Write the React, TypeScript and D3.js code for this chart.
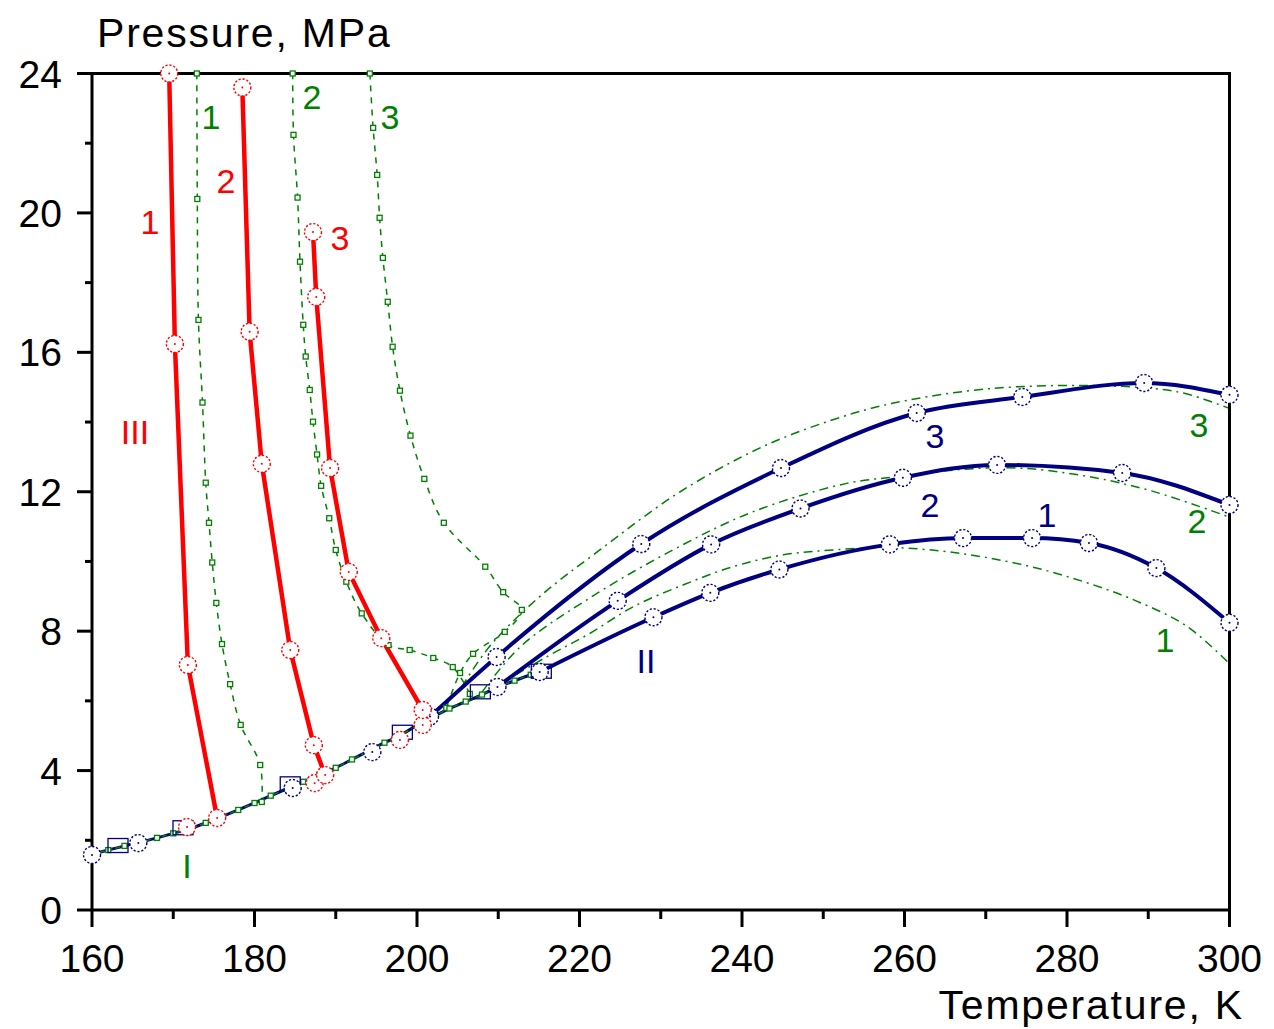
import React from "react";
import * as d3 from "d3";

// ---------- data (T in K, P in MPa) ----------
const xTicksMajor = [160, 180, 200, 220, 240, 260, 280, 300];
const xTicksMinor = [170, 190, 210, 230, 250, 270, 290];
const yTicksMajor = [0, 4, 8, 12, 16, 20, 24];
const yTicksMinor = [2, 6, 10, 14, 18, 22];

// saturation line (I)
const satT = [160, 162, 164, 166, 168, 170, 172, 174, 176, 178, 180, 182, 184, 186, 188, 190, 192, 194, 196, 198, 200, 202, 204, 206, 208, 210, 212, 214, 215.1];
const satP = [1.6, 1.72, 1.84, 1.95, 2.07, 2.2, 2.33, 2.5, 2.68, 2.87, 3.07, 3.28, 3.48, 3.68, 3.88, 4.08, 4.32, 4.56, 4.8, 5.02, 5.3, 5.55, 5.78, 5.98, 6.18, 6.4, 6.58, 6.75, 6.83];

// experimental liquid isochores (red)
const red1T = [169.5, 170.2, 171.8, 175.4];
const red1P = [24.0, 16.24, 7.03, 2.64];
const red2T = [178.5, 179.4, 180.9, 184.4, 187.3, 188.7];
const red2P = [23.6, 16.59, 12.8, 7.46, 4.73, 3.87];
const red3T = [187.2, 187.6, 189.3, 191.6, 195.6, 200.7];
const red3P = [19.45, 17.59, 12.68, 9.7, 7.8, 5.74];
const redSatT = [171.7, 187.4, 197.9, 200.7];
const redSatP = [2.38, 3.64, 4.88, 5.31];

// experimental gas isochores (navy)
const blue1T = [215.1, 229.1, 236.1, 244.6, 258.2, 267.2, 275.7, 282.7, 291.0, 300.0];
const blue1P = [6.83, 8.4, 9.1, 9.77, 10.49, 10.67, 10.67, 10.53, 9.81, 8.24];
const blue2T = [209.9, 224.7, 236.2, 247.2, 259.8, 271.4, 286.8, 300.0];
const blue2P = [6.4, 8.87, 10.49, 11.52, 12.4, 12.77, 12.54, 11.62];
const blue3T = [201.6, 209.8, 227.6, 244.8, 261.5, 274.5, 289.5, 300.0];
const blue3P = [5.55, 7.26, 10.5, 12.68, 14.26, 14.72, 15.12, 14.78];
const blueSatCircT = [160, 165.7, 184.7, 194.5];
const blueSatCircP = [1.58, 1.92, 3.5, 4.53];
const blueSatSqT = [163.2, 171.2, 184.4, 198.2, 207.8, 215.3];
const blueSatSqP = [1.85, 2.36, 3.62, 5.1, 6.26, 6.85];

// calculated isochores (green), liquid side
const g1T = [172.9, 172.96, 173.1, 173.6, 174.0, 174.4, 174.8, 175.3, 176.0, 177.0, 178.3, 180.7, 180.9];
const g1P = [24.0, 20.4, 16.93, 14.56, 12.26, 11.11, 9.97, 8.81, 7.63, 6.48, 5.31, 4.16, 3.1];
const g2T = [184.7, 184.8, 185.3, 185.6, 186.0, 186.3, 186.8, 187.2, 187.7, 188.2, 189.2, 190.0, 191.3, 193.2, 196.5, 199.1, 202.0, 204.4, 206.5];
const g2P = [24.0, 22.24, 20.44, 18.6, 16.79, 15.88, 14.92, 14.01, 13.07, 12.17, 11.24, 10.33, 9.42, 8.51, 7.6, 7.46, 7.23, 6.97, 6.2];
const g3T = [194.2, 194.6, 195.1, 195.4, 195.8, 196.4, 197.0, 197.9, 199.2, 200.9, 203.3, 208.4, 210.6, 212.9, 210.8, 206.9, 205.3, 203.6];
const g3P = [24.0, 22.44, 21.09, 19.86, 18.71, 17.45, 16.16, 14.9, 13.61, 12.37, 11.11, 9.85, 9.12, 8.61, 7.98, 7.35, 6.8, 5.8];
// calculated isochores (green), gas side
const g1rT = [210, 216.0, 221.3, 226.6, 232.8, 238.9, 245.1, 251.2, 258.2, 264.5, 269.9, 276.1, 282.3, 288.5, 294.7, 299.9];
const g1rP = [6.45, 7.27, 7.94, 8.7, 9.33, 9.85, 10.19, 10.33, 10.4, 10.3, 10.12, 9.82, 9.4, 8.87, 8.15, 7.09];
const g2rT = [208, 212.7, 220.9, 231.5, 241.4, 252.9, 259.9, 267.0, 274.0, 282.3, 290.6, 299.9];
const g2rP = [6.25, 7.55, 8.9, 10.33, 11.43, 12.24, 12.45, 12.64, 12.68, 12.45, 12.01, 11.28];
const g3rT = [205.5, 209.0, 215.1, 222.5, 232.4, 243.0, 253.7, 260.3, 270.6, 282.3, 290.6, 294.7, 299.9];
const g3rP = [6.4, 7.58, 8.99, 10.33, 12.0, 13.34, 14.25, 14.62, 14.96, 15.05, 14.96, 14.81, 14.4];

const zip = (a: number[], b: number[]) => a.map((v, i) => [v, b[i]] as [number, number]);

const W = 1274, H = 1029;
const x = d3.scaleLinear().domain([160, 300]).range([92, 1229.5]);
const y = d3.scaleLinear().domain([0, 24]).range([910, 73.5]);

const RED = "#ff0000", NAVY = "#000080", GREEN = "#008000";
const FONT = "'Liberation Sans', Arial, sans-serif";

const lin = d3.line<[number, number]>().x(d => x(d[0])).y(d => y(d[1]));
const smooth = d3.line<[number, number]>().x(d => x(d[0])).y(d => y(d[1])).curve(d3.curveCatmullRom.alpha(0.5));
const mono = d3.line<[number, number]>().x(d => x(d[0])).y(d => y(d[1])).curve(d3.curveMonotoneX);

function Circ({ t, p, color }: { t: number; p: number; color: string }) {
  return (
    <g>
      <circle cx={x(t)} cy={y(p)} r={8.5} fill="white" stroke={color} strokeWidth={1.4} strokeDasharray="2.2,1.8" />
      <circle cx={x(t)} cy={y(p)} r={1} fill={color} />
    </g>
  );
}
function Sq({ t, p, s = 5 }: { t: number; p: number; s?: number }) {
  return <rect x={x(t) - s / 2} y={y(p) - s / 2} width={s} height={s} fill="white" stroke={GREEN} strokeWidth={1.3} />;
}
function Label({ t, p, text, color }: { t: number; p: number; text: string; color: string }) {
  return (
    <text x={x(t)} y={y(p) + 12} textAnchor="middle" fontSize={34} fill={color} fontFamily={FONT}>
      {text}
    </text>
  );
}

export default function App() {
  const sat = zip(satT, satP);
  const greens = [zip(g1T, g1P), zip(g2T, g2P), zip(g3T, g3P)];
  const greensR = [zip(g1rT, g1rP), zip(g2rT, g2rP), zip(g3rT, g3rP)];
  const reds = [zip(red1T, red1P), zip(red2T, red2P), zip(red3T, red3P)];
  const blues = [zip(blue1T, blue1P), zip(blue2T, blue2P), zip(blue3T, blue3P)];
  return (
    <svg width={W} height={H} style={{ position: "absolute", left: 0, top: 0, background: "white" }} fontFamily={FONT}>
      <defs>
        <clipPath id="plot">
          <rect x={92} y={70} width={1229.5 - 92} height={910 - 70} />
        </clipPath>
      </defs>
      <g clipPath="url(#plot)">
        {/* green calculated curves */}
        {greens.map((g, i) => (
          <path key={"g" + i} d={smooth(g) || ""} fill="none" stroke={GREEN} strokeWidth={1.5} strokeDasharray="6,6" />
        ))}
        {greensR.map((g, i) => (
          <path key={"gr" + i} d={smooth(g) || ""} fill="none" stroke={GREEN} strokeWidth={1.5} strokeDasharray="9,5,2,5" />
        ))}
        {/* saturation line */}
        <path d={smooth(sat) || ""} fill="none" stroke={NAVY} strokeWidth={3} />
        <path d={smooth(sat) || ""} fill="none" stroke={GREEN} strokeWidth={1.5} strokeDasharray="5,3" />
        {/* blue lines */}
        {blues.map((b, i) => (
          <path key={"b" + i} d={mono(b) || ""} fill="none" stroke={NAVY} strokeWidth={4} />
        ))}
        {/* red lines */}
        {reds.map((r, i) => (
          <path key={"r" + i} d={lin(r) || ""} fill="none" stroke={RED} strokeWidth={4.5} />
        ))}
      </g>

      {/* frame */}
      <rect x={92} y={73.5} width={1229.5 - 92} height={910 - 73.5} fill="none" stroke="black" strokeWidth={3} />

      {/* markers (not clipped, drawn over the frame like the reference) */}
      {greens.map((g, i) => g.map((d, j) => <Sq key={`gs${i}-${j}`} t={d[0]} p={d[1]} />))}
      {sat.map((d, j) => <Sq key={"ss" + j} t={d[0]} p={d[1]} s={5} />)}
      {blueSatSqT.map((t, j) => (
        <rect key={"bs" + j} x={x(t) - 10} y={y(blueSatSqP[j]) - 7} width={20} height={14} fill="none" stroke={NAVY} strokeWidth={1.3} />
      ))}
      {blueSatCircT.map((t, j) => <Circ key={"bc" + j} t={t} p={blueSatCircP[j]} color={NAVY} />)}
      {blues.map((b, i) => b.map((d, j) => <Circ key={`bc${i}-${j}`} t={d[0]} p={d[1]} color={NAVY} />))}
      {redSatT.map((t, j) => <Circ key={"rc" + j} t={t} p={redSatP[j]} color={RED} />)}
      {reds.map((r, i) => r.map((d, j) => <Circ key={`rc${i}-${j}`} t={d[0]} p={d[1]} color={RED} />))}

      {/* x ticks */}
      {xTicksMajor.map(t => (
        <g key={"xt" + t}>
          <line x1={x(t)} x2={x(t)} y1={910} y2={927} stroke="black" strokeWidth={3} />
          <text x={x(t)} y={972} textAnchor="middle" fontSize={39}>{t}</text>
        </g>
      ))}
      {xTicksMinor.map(t => (
        <line key={"xm" + t} x1={x(t)} x2={x(t)} y1={910} y2={919} stroke="black" strokeWidth={3} />
      ))}
      {/* y ticks */}
      {yTicksMajor.map(p => (
        <g key={"yt" + p}>
          <line x1={77} x2={92} y1={y(p)} y2={y(p)} stroke="black" strokeWidth={3} />
          <text x={62} y={y(p) + 14} textAnchor="end" fontSize={39}>{p}</text>
        </g>
      ))}
      {yTicksMinor.map(p => (
        <line key={"ym" + p} x1={85} x2={92} y1={y(p)} y2={y(p)} stroke="black" strokeWidth={3} />
      ))}
      <text x={97} y={47} fontSize={41} letterSpacing={1.8}>Pressure, MPa</text>
      <text x={1244} y={1019} fontSize={41} letterSpacing={1.8} textAnchor="end">Temperature, K</text>

      {/* labels */}
      <Label t={167.14} p={19.74} text="1" color={RED} />
      <Label t={176.49} p={20.92} text="2" color={RED} />
      <Label t={190.52} p={19.28} text="3" color={RED} />
      <Label t={165.29} p={13.72} text="III" color={RED} />
      <Label t={174.65} p={22.75} text="1" color={GREEN} />
      <Label t={187.08} p={23.33} text="2" color={GREEN} />
      <Label t={196.68} p={22.75} text="3" color={GREEN} />
      <Label t={171.69} p={1.26} text="I" color={GREEN} />
      <Label t={296.25} p={13.92} text="3" color={GREEN} />
      <Label t={296.0} p={11.16} text="2" color={GREEN} />
      <Label t={292.06} p={7.75} text="1" color={GREEN} />
      <Label t={263.75} p={13.6} text="3" color={NAVY} />
      <Label t={263.14} p={11.62} text="2" color={NAVY} />
      <Label t={277.54} p={11.33} text="1" color={NAVY} />
      <Label t={228.18} p={7.14} text="II" color={NAVY} />
    </svg>
  );
}
